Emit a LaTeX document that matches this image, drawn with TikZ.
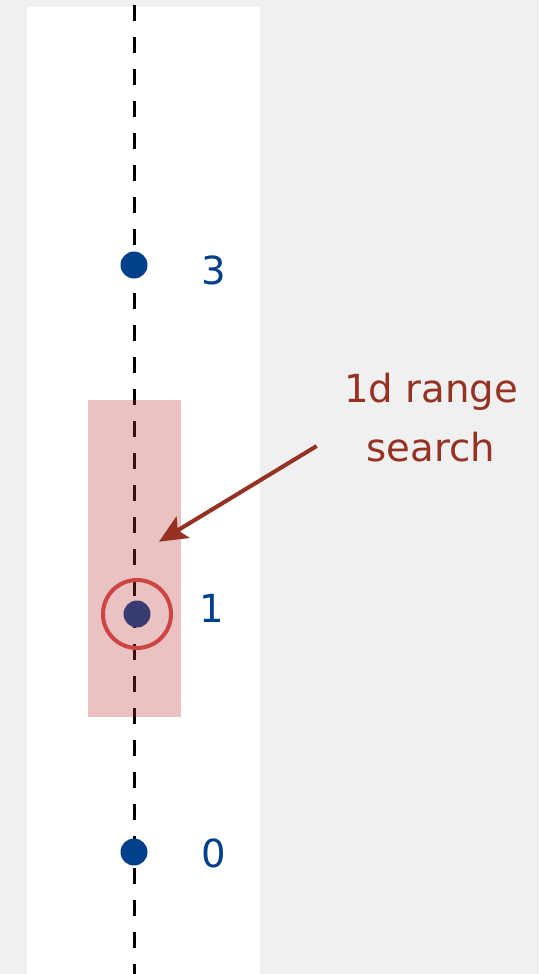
\documentclass[tikz,border=0pt]{standalone}
\usepackage{fontspec}
\setmainfont{DejaVu Sans}
\usetikzlibrary{arrows.meta}

\definecolor{ptblue}{RGB}{0,63,138}
\definecolor{rangered}{RGB}{188,55,55}
\definecolor{ringred}{RGB}{204,68,68}
\definecolor{notebrown}{RGB}{150,50,36}
\definecolor{pagegray}{RGB}{240,240,240}

\tikzset{
  pt/.style={circle,fill=ptblue,inner sep=0pt,minimum size=0.54cm},
  keylabel/.style={text=ptblue,inner sep=0pt,font=\fontsize{22}{26}\selectfont},
  note/.style={text=notebrown,inner sep=0pt,align=center,font=\fontsize{22}{33.5}\selectfont}
}

\begin{document}
\begin{tikzpicture}[x=0.02cm,y=-0.02cm]
  % page and white strip
  \fill[pagegray] (0,0) rectangle (539,974);
  \fill[white] (27,7) rectangle (260,974);
  \useasboundingbox (0,0) rectangle (539,974);

  % the keys on the line
  \draw[line width=1.4pt,dash pattern=on 9.1pt off 9.1pt,dash phase=15.4pt] (134.5,0) -- (134.5,974);
  \node[pt] (p3) at (134,265) {};
  \node[pt] (p1) at (137,614) {};
  \node[pt] (p0) at (134,852) {};
  \node[keylabel] (l3) at (213.5,270.5) {3};
  \node[keylabel] (l1) at (212,608.5) {1};
  \node[keylabel] (l0) at (213.5,853) {0};

  % query interval
  \fill[rangered,opacity=0.3] (88,400) rectangle (181,716.5);
  \draw[ringred,line width=2.3pt] (p1) circle [radius=34];

  % note and arrow
  \node[note] (query) at (431,418) {1d range\\search};
  \coordinate (tail) at (316.7,446);
  \coordinate (tip) at (159,541.7);
  \draw[notebrown,line width=2.3pt,-{Stealth[length=0.56cm,width=0.5cm,inset=0.12cm]}] (tail) -- (tip);
\end{tikzpicture}
\end{document}
